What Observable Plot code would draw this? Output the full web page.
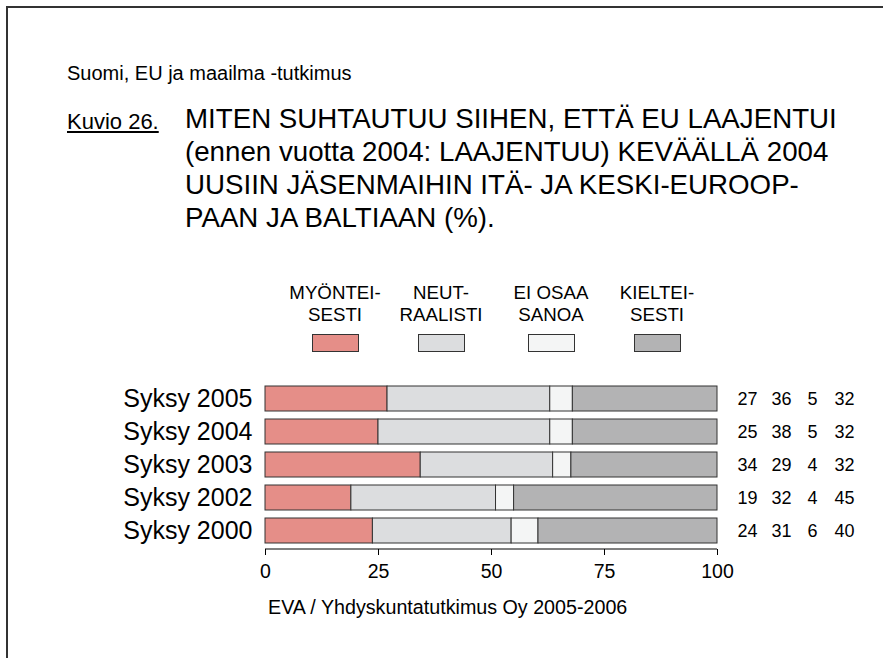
<!DOCTYPE html>
<html><head><meta charset="utf-8">
<script src="https://cdn.jsdelivr.net/npm/d3@7"></script>
<script src="https://cdn.jsdelivr.net/npm/@observablehq/plot@0.6"></script>
<style>
body{margin:0;background:#fff;font-family:"Liberation Sans",Arial,sans-serif;color:#000;}
#page{position:relative;width:883px;height:658px;overflow:hidden;background:#fff;}
.bt{position:absolute;left:6px;top:6px;right:-2px;height:0;border-top:2px solid #333;}
.bl{position:absolute;left:6px;top:6px;bottom:-2px;width:0;border-left:2px solid #333;}
.abs{position:absolute;white-space:nowrap;}
#sub{left:67px;top:63px;font-size:20px;line-height:20px;}
#kuvio{left:67px;top:111px;font-size:22px;line-height:22px;text-decoration:underline;}
#title{left:185px;top:102px;font-size:27.7px;line-height:33px;}
.leg{position:absolute;top:282px;width:140px;text-align:center;font-size:18.7px;line-height:22px;}
.sw{position:absolute;top:334px;width:45px;height:16px;border:1px solid #333;}
#cap{left:268px;top:597px;font-size:19.7px;line-height:20px;}
#chart{position:absolute;left:0;top:360px;}
</style>
</head><body>
<div id="page">
  <div class="bt"></div><div class="bl"></div>
  <div id="sub" class="abs">Suomi, EU ja maailma -tutkimus</div>
  <div id="kuvio" class="abs">Kuvio 26.</div>
  <div id="title" class="abs">MITEN SUHTAUTUU SIIHEN, ETTÄ EU LAAJENTUI<br>(ennen vuotta 2004: LAAJENTUU) KEVÄÄLLÄ 2004<br>UUSIIN JÄSENMAIHIN ITÄ- JA KESKI-EUROOP-<br>PAAN JA BALTIAAN (%).</div>
  <div id="legend"></div>
  <div id="chart"></div>
  <div id="cap" class="abs">EVA / Yhdyskuntatutkimus Oy 2005-2006</div>
</div>
<script>
// ---- data ----
const years = ["Syksy 2005", "Syksy 2004", "Syksy 2003", "Syksy 2002", "Syksy 2000"];
const categories = ["Myönteisesti", "Neutraalisti", "Ei osaa sanoa", "Kielteisesti"];
const legendLabels = ["MYÖNTEI-\nSESTI", "NEUT-\nRAALISTI", "EI OSAA\nSANOA", "KIELTEI-\nSESTI"];
const myonteisesti = [27, 25, 34, 19, 24];
const neutraalisti = [36, 38, 29, 32, 31];
const eiOsaaSanoa = [5, 5, 4, 4, 6];
const kielteisesti = [32, 32, 32, 45, 40];
const xTicks = [0, 25, 50, 75, 100];

// ---- styling / layout ----
const colors = ["#E58E88", "#DCDDDF", "#F4F5F5", "#B3B3B4"];
const legendLeft = [312, 418, 528, 634];
const numberDx = [30, 64, 95, 127];

const series = [myonteisesti, neutraalisti, eiOsaaSanoa, kielteisesti];
const long = [];
years.forEach((y, i) => categories.forEach((c, j) => long.push({year: y, cat: c, value: series[j][i]})));

// legend (HTML)
const leg = document.getElementById("legend");
categories.forEach((c, j) => {
  const t = document.createElement("div");
  t.className = "leg";
  t.style.left = (legendLeft[j] + 23 - 70) + "px";
  t.innerHTML = legendLabels[j].replace("\n", "<br>");
  leg.appendChild(t);
  const s = document.createElement("div");
  s.className = "sw";
  s.style.left = legendLeft[j] + "px";
  s.style.background = colors[j];
  leg.appendChild(s);
});

const rows = years.map((y, i) => ({year: y, vals: series.map(s => s[i])}));

const axisLine = (index, scales, values, dims) => {
  const l = document.createElementNS("http://www.w3.org/2000/svg", "line");
  const yb = dims.height - dims.marginBottom;
  l.setAttribute("x1", scales.x(0));
  l.setAttribute("x2", scales.x(1));
  l.setAttribute("y1", yb);
  l.setAttribute("y2", yb);
  l.setAttribute("stroke", "#000");
  return l;
};

const chart = Plot.plot({
  width: 883,
  height: 240,
  marginTop: 19,
  marginBottom: 51,
  marginLeft: 265,
  marginRight: 166,
  style: {fontFamily: "'Liberation Sans', Arial, sans-serif", color: "#000", background: "transparent", overflow: "visible"},
  x: {domain: [0, 1]},
  y: {domain: years, paddingInner: 0.25, paddingOuter: 0.18},
  color: {domain: categories, range: colors},
  marks: [
    Plot.barX(long, Plot.stackX({x: "value", y: "year", fill: "cat", order: categories, offset: "normalize", stroke: "#333", strokeWidth: 1})),
    Plot.axisX({ticks: xTicks.map(d => d / 100), tickFormat: d => Math.round(d * 100), tickSize: 6, tickPadding: 9, fontSize: 19.5, label: null, stroke: "#000"}),
    axisLine,
    Plot.axisY({tickSize: 0, tickPadding: 13, fontSize: 25, label: null}),
    ...categories.map((c, j) => Plot.text(rows, {y: "year", text: d => String(d.vals[j]), frameAnchor: "right", dx: numberDx[j], fontSize: 18, textAnchor: "middle", fill: "#000"}))
  ]
});
document.getElementById("chart").appendChild(chart);
</script>
</body></html>
